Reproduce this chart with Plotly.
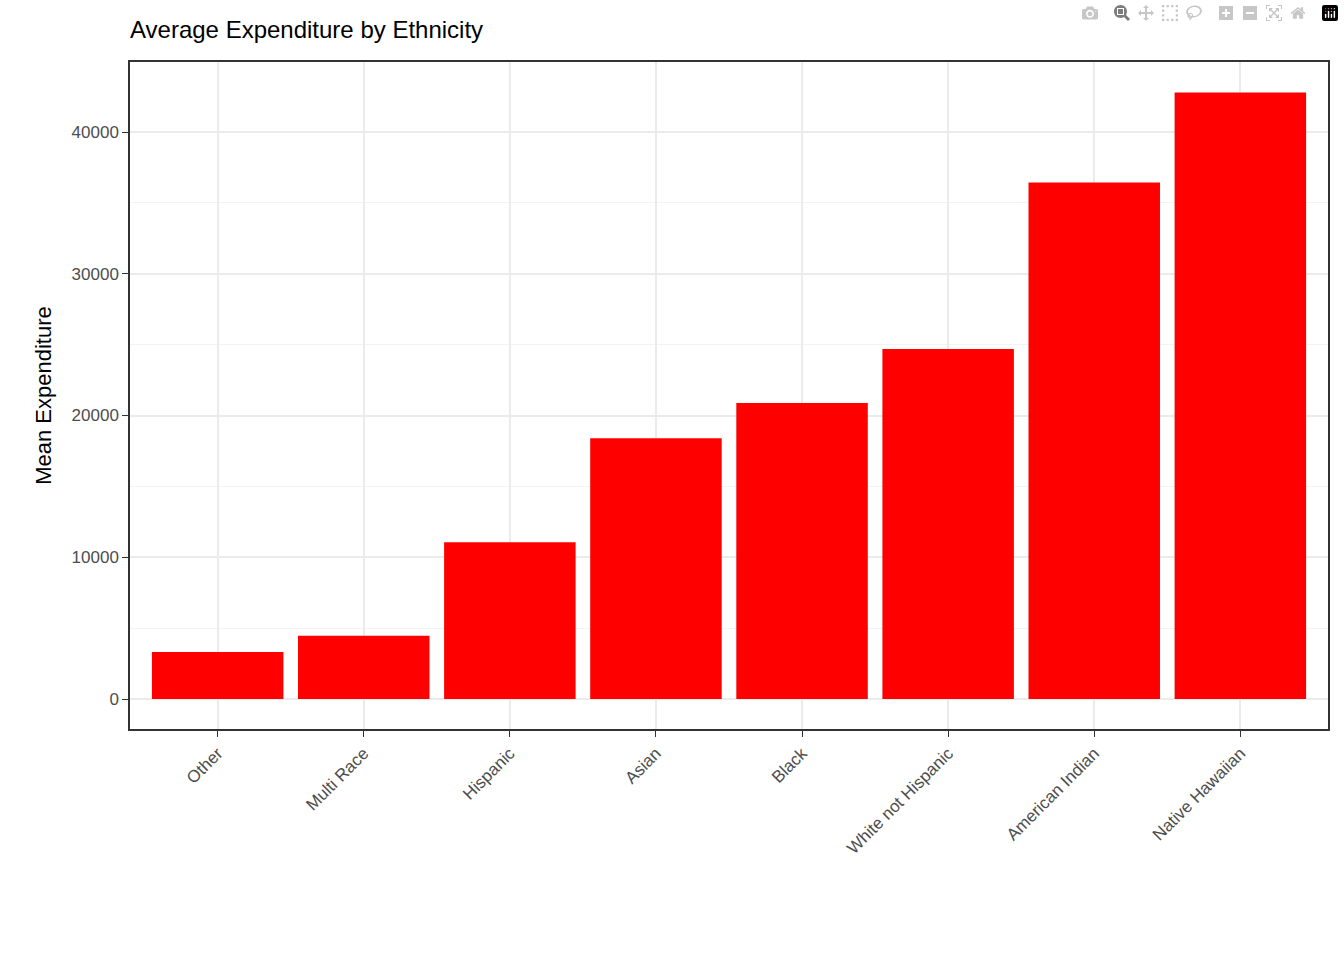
import plotly.graph_objects as go

ethnicity = ["Other", "Multi Race", "Hispanic", "Asian", "Black",
             "White not Hispanic", "American Indian", "Native Hawaiian"]
mean_expenditure = [3316, 4456, 11066, 18392, 20885, 24698, 36438, 42782]

fig = go.Figure(go.Bar(
    x=ethnicity,
    y=mean_expenditure,
    marker=dict(color="#FF0000", line=dict(width=0)),
    width=0.9,
))

fig.update_layout(
    width=1344,
    height=960,
    margin=dict(l=130, r=16, t=62, b=231),
    paper_bgcolor="white",
    plot_bgcolor="white",
    font=dict(family="Liberation Sans, Arial, sans-serif", color="#4D4D4D"),
    title=dict(text="Average Expenditure by Ethnicity", x=130 / 1344, xanchor="left",
               y=1 - 30 / 960, yanchor="middle",
               font=dict(size=24, color="black")),
    showlegend=False,
    bargap=0.1,
)
fig.update_xaxes(
    tickangle=-45, tickfont=dict(size=17, color="#4D4D4D"),
    showgrid=True, gridcolor="#EBEBEB", gridwidth=1.5,
    ticks="outside", ticklen=6, tickcolor="#333333",
    showline=True, linecolor="#333333", mirror=True, linewidth=1.5,
    range=[-0.6, 7.6],
)
fig.update_yaxes(
    title=dict(text="Mean Expenditure", font=dict(size=22, color="black"), standoff=14),
    tickfont=dict(size=17, color="#4D4D4D"), tickformat="d",
    range=[-2116, 44938], tickvals=[0, 10000, 20000, 30000, 40000],
    showgrid=True, gridcolor="#EBEBEB", gridwidth=1.5, zeroline=False,
    minor=dict(tickvals=[5000, 15000, 25000, 35000], showgrid=True,
               gridcolor="#F3F3F3", gridwidth=1),
    ticks="outside", ticklen=6, tickcolor="#333333",
    showline=True, linecolor="#333333", mirror=True, linewidth=1.5,
)

fig.write_html("out.html",
               post_script="document.body.style.margin='0';document.body.style.overflow='hidden';")
